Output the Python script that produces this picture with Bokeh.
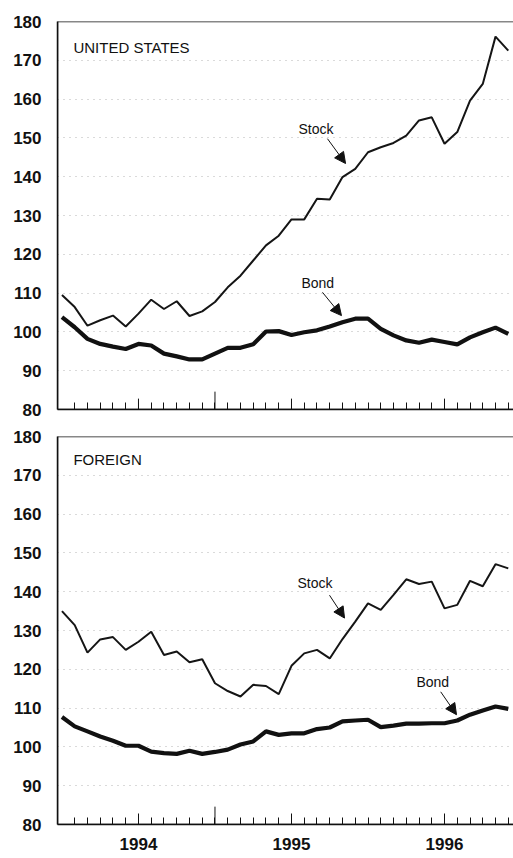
from bokeh.plotting import figure
from bokeh.layouts import column
from bokeh.models import FixedTicker, Range1d, Arrow, NormalHead, Label, Span
from bokeh.embed import file_html
from bokeh.resources import INLINE

# Monthly index: 0 = Jul 1993 ... 35 = Jun 1996
month_index = list(range(36))
year_tick_months = [6, 18, 30]
year_labels = ["1994", "1995", "1996"]
month_ticks = list(range(1, 36))
mid_year_ticks = [12]
y_ticks = list(range(80, 181, 10))

us_stock = [109.5, 106.4, 101.6, 103.0, 104.2, 101.4, 104.7, 108.3, 105.9, 107.9, 104.1, 105.3,
            107.7, 111.5, 114.5, 118.4, 122.3, 124.8, 129.0, 129.0, 134.3, 134.1, 139.9, 142.0,
            146.3, 147.6, 148.7, 150.6, 154.5, 155.3, 148.5, 151.5, 159.6, 163.9, 176.1, 172.5]
us_bond = [103.8, 101.2, 98.2, 96.9, 96.2, 95.6, 96.9, 96.5, 94.4, 93.7, 92.9, 92.9,
           94.4, 95.9, 95.9, 96.8, 100.1, 100.2, 99.2, 99.9, 100.4, 101.4, 102.5, 103.4,
           103.4, 100.8, 99.1, 97.8, 97.2, 98.0, 97.4, 96.8, 98.6, 99.9, 101.1, 99.5]
foreign_stock = [135.0, 131.4, 124.3, 127.7, 128.3, 125.0, 127.1, 129.7, 123.7, 124.6, 121.8, 122.6,
                 116.4, 114.4, 113.0, 116.0, 115.7, 113.6, 120.9, 124.1, 125.0, 122.8, 127.8, 132.3,
                 137.0, 135.3, 139.2, 143.2, 142.0, 142.6, 135.7, 136.6, 142.8, 141.4, 147.1, 146.0]
foreign_bond = [107.7, 105.3, 104.0, 102.7, 101.6, 100.3, 100.3, 98.8, 98.4, 98.2, 99.0, 98.2,
                98.7, 99.3, 100.6, 101.4, 104.0, 103.1, 103.5, 103.5, 104.6, 105.0, 106.6, 106.8,
                107.0, 105.1, 105.5, 106.0, 106.0, 106.1, 106.1, 106.8, 108.3, 109.4, 110.4, 109.8]

# annotations: (text, text_x, text_y, arrow_x0, arrow_y0, arrow_x1, arrow_y1)
us_notes = [("Stock", 18.55, 152.4, 20.82, 149.8, 22.24, 143.4),
            ("Bond", 18.78, 112.7, 20.43, 110.2, 21.92, 104.2)]
foreign_notes = [("Stock", 18.47, 142.2, 20.98, 139.1, 22.16, 133.2),
                 ("Bond", 27.8, 116.8, 29.7, 114.2, 30.94, 108.3)]
us_title = ("UNITED STATES", 0.9, 173.3)
foreign_title = ("FOREIGN", 0.9, 174.1)

FONT = "Liberation Sans"
INK = "#111111"
X_START, X_END = -0.35, 35.41


def make_panel(title, stock, bond, notes, height, top_border, bottom_border, show_years):
    p = figure(width=513, height=height, x_range=Range1d(X_START, X_END), y_range=Range1d(80, 180),
               output_backend="svg", toolbar_location=None,
               min_border_left=57, min_border_right=0,
               min_border_top=top_border, min_border_bottom=bottom_border,
               outline_line_color=None, background_fill_color="white",
               border_fill_color="white")

    # y axis
    yax = p.yaxis[0]
    yax.ticker = FixedTicker(ticks=y_ticks)
    yax.major_tick_in = 0
    yax.major_tick_out = 0
    yax.minor_tick_line_color = None
    yax.major_label_standoff = 16
    yax.major_label_text_font = FONT
    yax.major_label_text_font_style = "bold"
    yax.major_label_text_font_size = "17px"
    yax.major_label_text_color = INK
    yax.axis_line_color = INK
    yax.axis_line_width = 1.5

    # x axis
    xax = p.xaxis[0]
    xax.major_tick_out = 0
    xax.minor_tick_in = 7
    xax.minor_tick_out = 0
    xax.major_tick_line_color = INK
    xax.minor_tick_line_color = INK
    xax.axis_line_color = INK
    xax.axis_line_width = 1.5
    if show_years:
        xax.ticker = FixedTicker(ticks=year_tick_months, minor_ticks=month_ticks)
        xax.major_tick_in = 11
        xax.major_label_overrides = {m: lab for m, lab in zip(year_tick_months, year_labels)}
        xax.major_label_standoff = 13
        xax.major_label_text_font = FONT
        xax.major_label_text_font_style = "bold"
        xax.major_label_text_font_size = "17px"
        xax.major_label_text_color = INK
    else:
        xax.ticker = FixedTicker(ticks=[], minor_ticks=month_ticks)
        xax.major_tick_in = 0
        # taller January ticks
        p.segment(x0=year_tick_months, y0=[80] * len(year_tick_months), x1=year_tick_months,
                  y1=[82.8] * len(year_tick_months), line_color=INK, line_width=1)

    # frame lines (top, left, bottom)
    p.add_layout(Span(location=180, dimension="width", line_color=INK, line_width=1.5))
    p.add_layout(Span(location=80, dimension="width", line_color=INK, line_width=1.5))
    p.add_layout(Span(location=X_START, dimension="height", line_color=INK, line_width=1.5))

    p.xgrid.visible = False
    p.ygrid.ticker = FixedTicker(ticks=y_ticks[1:-1])
    p.ygrid.grid_line_color = "#b4b4b4"
    p.ygrid.grid_line_dash = "1 5"
    p.ygrid.grid_line_alpha = 1.0

    # tallest mid-year tick
    p.segment(x0=mid_year_ticks, y0=[80] * len(mid_year_ticks), x1=mid_year_ticks,
              y1=[84.6] * len(mid_year_ticks), line_color=INK, line_width=1)

    p.line(month_index, stock, line_color="#151515", line_width=2)
    p.line(month_index, bond, line_color=INK, line_width=4.2)

    t, tx, ty = title
    p.add_layout(Label(x=tx, y=ty, text=t, text_font=FONT, text_font_size="15px",
                       text_baseline="middle", text_align="left", text_color=INK))
    for txt, lx, ly, ax0, ay0, ax1, ay1 in notes:
        p.add_layout(Label(x=lx, y=ly, text=txt, text_font=FONT, text_font_size="14px",
                           text_baseline="middle", text_align="left", text_color=INK))
        p.add_layout(Arrow(end=NormalHead(size=11, fill_color=INK, line_color=INK, line_width=1),
                           x_start=ax0, y_start=ay0, x_end=ax1, y_end=ay1,
                           line_color=INK, line_width=1))
    return p


p1 = make_panel(us_title, us_stock, us_bond, us_notes, height=419,
                top_border=21, bottom_border=10, show_years=False)
p2 = make_panel(foreign_title, foreign_stock, foreign_bond, foreign_notes, height=438,
                top_border=17, bottom_border=33, show_years=True)

layout = column(p1, p2, spacing=0)
open("out.html", "w").write(file_html(layout, INLINE))
